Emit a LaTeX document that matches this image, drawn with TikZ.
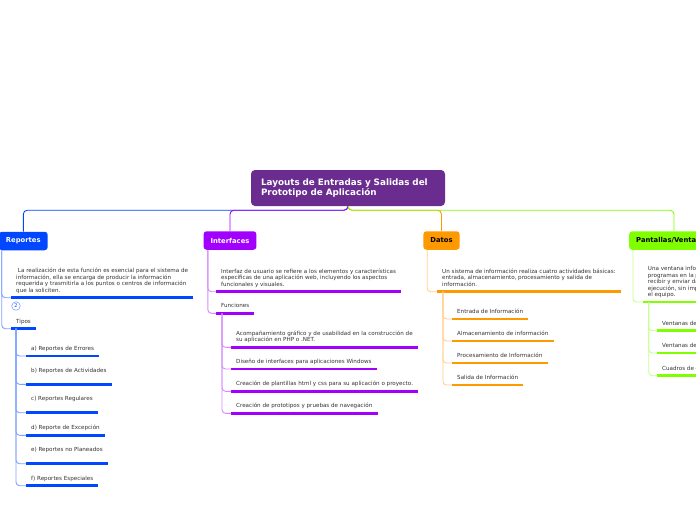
\documentclass[tikz,border=0pt]{standalone}
\usepackage{fontspec}
\setmainfont{DejaVu Sans}
\definecolor{repblue}{RGB}{0,71,255}
\definecolor{intpurple}{RGB}{161,0,255}
\definecolor{datorange}{RGB}{255,153,0}
\definecolor{pangreen}{RGB}{128,255,0}
\definecolor{titlepurple}{RGB}{106,45,143}
\definecolor{textgray}{RGB}{51,51,51}
\colorlet{replight}{repblue!50!white}
\colorlet{intlight}{intpurple!45!white}
\colorlet{datlight}{datorange!45!white}
\colorlet{panlight}{pangreen!45!white}

\begin{document}
\begin{tikzpicture}[x=1pt, y=-1pt,
    title/.style={rounded corners=4pt, fill=titlepurple, text=white, minimum width=194pt,
      minimum height=36pt, text width=174pt, align=left, inner xsep=10pt,
      font=\fontsize{8.8}{10}\selectfont\bfseries},
    branch/.style={rounded corners=3pt, minimum height=18.5pt, inner xsep=7pt,
      font=\fontsize{6.8}{7}\selectfont\bfseries},
    item/.style={anchor=south west, inner xsep=5pt, inner ysep=0pt, text depth=5.3pt,
      align=left, text=textgray, font=\fontsize{5.6}{6.5}\selectfont},
    spaced/.style={text depth=11.8pt},
    ul/.style={append after command={(\tikzlastnode.south west)
      edge[line width=2.6pt, draw=#1] (\tikzlastnode.south east)}},
    link/.style={line width=0.9pt, rounded corners=4pt},
    tree/.style={line width=0.9pt, rounded corners=3.5pt},
  ]
  \useasboundingbox (0,0) rectangle (696,520);
  \fill[white] (0,0) rectangle (696,520);
  \clip (0,0) rectangle (696,520);

  % central topic and main branches
  \node[title] (title) at (348,188) {Layouts de Entradas y Salidas del\\Prototipo de Aplicación};
  \node[branch, fill=repblue, text=white, minimum width=47pt] (rep) at (23.3,241) {Reportes};
  \node[branch, fill=intpurple, text=white] (int) at (230,240.5) {Interfaces};
  \node[branch, fill=datorange] (dat) at (441.5,240.5) {Datos};
  \node[branch, fill=pangreen, anchor=west] (pan) at (629,240.5) {Pantallas/Ventanas};

  \draw[link, repblue] (title.south) -- ++(0,4) -| (rep.north);
  \draw[link, datorange] (title.south) -- ++(0,4) -| (dat.north);
  \draw[link, intpurple] (title.south) -- ++(0,4) -| (int.north);
  \draw[link, pangreen] (title.south) -- ++(0,4) -| ([xshift=45pt]pan.north west);

  % Reportes
  \node[item, ul=repblue] (rdesc) at (11,297.7) {~La realización de esta función es esencial para el sistema de\\información, ella se encarga de producir la información\\requerida y trasmitirla a los puntos o centros de información\\que la soliciten.};
  \node[circle, draw=replight, line width=0.6pt, minimum size=8.5pt, inner sep=0pt,
    text=repblue, font=\fontsize{5}{5}\selectfont] (more) at (16,306) {2};
  \node[item, ul=repblue] (tipos) at (11,328.7) {Tipos};
  \node[item, ul=repblue] (ra) at (26,356) {a) Reportes de Errores};
  \node[item, spaced, ul=repblue] (rb) at (26,384.3) {b) Reportes de Actividades};
  \node[item, spaced, ul=repblue] (rc) at (26,412.7) {c) Reportes Regulares};
  \node[item, ul=repblue] (rd) at (26,435.3) {d) Reporte de Excepción};
  \node[item, spaced, ul=repblue] (re) at (26,463.7) {e) Reportes no Planeados};
  \node[item, ul=repblue] (rf) at (26,485.7) {f) Reportes Especiales};

  \draw[tree, replight] ([xshift=3pt]rep.south west) |- (rdesc.south west);
  \draw[tree, replight] ([xshift=3pt]rep.south west) |- (tipos.south west);
  \draw[tree, replight] ([xshift=5pt]tipos.south west) |- (ra.south west);
  \draw[tree, replight] ([xshift=5pt]tipos.south west) |- (rb.south west);
  \draw[tree, replight] ([xshift=5pt]tipos.south west) |- (rc.south west);
  \draw[tree, replight] ([xshift=5pt]tipos.south west) |- (rd.south west);
  \draw[tree, replight] ([xshift=5pt]tipos.south west) |- (re.south west);
  \draw[tree, replight] ([xshift=5pt]tipos.south west) |- (rf.south west);

  % Interfaces
  \node[item, ul=intpurple] (idesc) at (216,291.7) {Interfaz de usuario se refiere a los elementos y características\\específicas de una aplicación web, incluyendo los aspectos\\funcionales y visuales.};
  \node[item, ul=intpurple] (func) at (216,313.3) {Funciones};
  \node[item, ul=intpurple] (ia) at (231,347.3) {Acompañamiento gráfico y de usabilidad en la construcción de\\su aplicación en PHP o .NET.};
  \node[item, ul=intpurple] (ib) at (231,369) {Diseño de interfaces para aplicaciones Windows};
  \node[item, ul=intpurple] (ic) at (231,391.3) {Creación de plantillas html y css para su aplicación o proyecto.};
  \node[item, ul=intpurple] (id) at (231,413.3) {Creación de prototipos y pruebas de navegación};

  \draw[tree, intlight] ([xshift=4.5pt]int.south west) |- (idesc.south west);
  \draw[tree, intlight] ([xshift=4.5pt]int.south west) |- (func.south west);
  \draw[tree, intlight] ([xshift=6pt]func.south west) |- (ia.south west);
  \draw[tree, intlight] ([xshift=6pt]func.south west) |- (ib.south west);
  \draw[tree, intlight] ([xshift=6pt]func.south west) |- (ic.south west);
  \draw[tree, intlight] ([xshift=6pt]func.south west) |- (id.south west);

  % Datos
  \node[item, ul=datorange] (ddesc) at (437,291.7) {Un sistema de información realiza cuatro actividades básicas:\\entrada, almacenamiento, procesamiento y salida de\\información.};
  \node[item, ul=datorange] (da) at (452,319) {Entrada de Información};
  \node[item, ul=datorange] (db) at (452,341) {Almacenamiento de información};
  \node[item, ul=datorange] (dc) at (452,363) {Procesamiento de Información};
  \node[item, ul=datorange] (dd) at (452,385) {Salida de Información};

  \draw[tree, datlight] ([xshift=4pt]dat.south west) |- (ddesc.south west);
  \draw[tree, datlight] ([xshift=6pt]ddesc.south west) |- (da.south west);
  \draw[tree, datlight] ([xshift=6pt]ddesc.south west) |- (db.south west);
  \draw[tree, datlight] ([xshift=6pt]ddesc.south west) |- (dc.south west);
  \draw[tree, datlight] ([xshift=6pt]ddesc.south west) |- (dd.south west);

  % Pantallas/Ventanas
  \node[item, ul=pangreen] (pdesc) at (642.7,302) {\makebox[60pt][l]{Una ventana infor}\\programas en la p\\recibir y enviar da\\ejecución, sin imp\\el equipo.};
  \node[item, ul=pangreen] (pa) at (657,330.7) {\makebox[40pt][l]{Ventanas de}};
  \node[item, ul=pangreen] (pb) at (657,353) {\makebox[40pt][l]{Ventanas de}};
  \node[item, ul=pangreen] (pc) at (657,375.7) {\makebox[40pt][l]{Cuadros de d}};

  \draw[tree, panlight] ([xshift=4pt]pan.south west) |- (pdesc.south west);
  \draw[tree, panlight] ([xshift=6pt]pdesc.south west) |- (pa.south west);
  \draw[tree, panlight] ([xshift=6pt]pdesc.south west) |- (pb.south west);
  \draw[tree, panlight] ([xshift=6pt]pdesc.south west) |- (pc.south west);
\end{tikzpicture}
\end{document}
